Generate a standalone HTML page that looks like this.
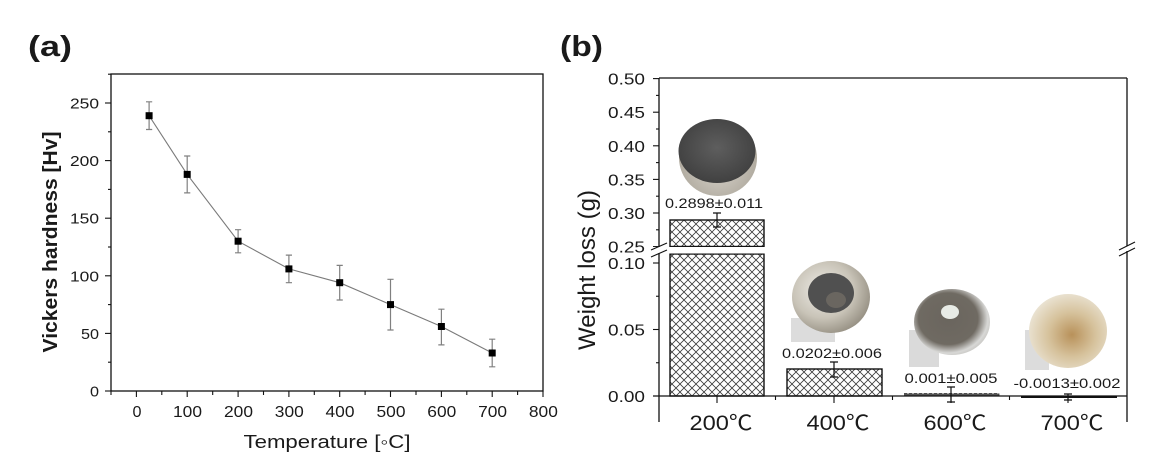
<!DOCTYPE html>
<html><head><meta charset="utf-8"><style>
html,body{margin:0;padding:0;background:#fff;}
svg{display:block;}
text{font-family:"Liberation Sans","Noto Sans CJK KR",sans-serif;fill:#1a1a1a;}
</style></head><body>
<svg width="1167" height="475" viewBox="0 0 1167 475" xmlns="http://www.w3.org/2000/svg">
<defs>
<pattern id="hatch" patternUnits="userSpaceOnUse" width="8" height="8">
<path d="M0,0 L8,8 M8,0 L0,8 M-1,7 L1,9 M7,-1 L9,1 M-1,1 L1,-1 M7,9 L9,7" stroke="#3a3a3a" stroke-width="0.8" fill="none"/>
</pattern>
<radialGradient id="b1" cx="0.5" cy="0.6" r="0.6"><stop offset="0" stop-color="#d8d4cc"/><stop offset="1" stop-color="#a8a296"/></radialGradient>
<radialGradient id="f1" cx="0.5" cy="0.45" r="0.6"><stop offset="0" stop-color="#5e5e5e"/><stop offset="1" stop-color="#3e3e3e"/></radialGradient>
<radialGradient id="b2" cx="0.4" cy="0.4" r="0.65"><stop offset="0" stop-color="#efede8"/><stop offset="0.6" stop-color="#c9c4b8"/><stop offset="1" stop-color="#958f82"/></radialGradient>
<radialGradient id="b3" cx="0.45" cy="0.45" r="0.65"><stop offset="0" stop-color="#6a655e"/><stop offset="0.6" stop-color="#6f6a62"/><stop offset="0.8" stop-color="#d8d8d6"/><stop offset="1" stop-color="#b8b6b0"/></radialGradient>
<radialGradient id="b4" cx="0.55" cy="0.55" r="0.6"><stop offset="0" stop-color="#b8915a"/><stop offset="0.5" stop-color="#d6c29c"/><stop offset="1" stop-color="#ece6d8"/></radialGradient>
</defs>

<!-- ===== Panel (a) ===== -->
<text x="28" y="56" font-size="29" font-weight="bold" textLength="44" lengthAdjust="spacingAndGlyphs">(a)</text>

<rect x="111" y="74" width="432" height="317" fill="none" stroke="#111" stroke-width="1.3"/>

<!-- y ticks -->
<g stroke="#111" stroke-width="1.1">
<line x1="105" y1="391" x2="111" y2="391"/>
<line x1="105" y1="333.4" x2="111" y2="333.4"/>
<line x1="105" y1="275.8" x2="111" y2="275.8"/>
<line x1="105" y1="218.2" x2="111" y2="218.2"/>
<line x1="105" y1="160.6" x2="111" y2="160.6"/>
<line x1="105" y1="103" x2="111" y2="103"/>
<line x1="108" y1="362.2" x2="111" y2="362.2"/>
<line x1="108" y1="304.6" x2="111" y2="304.6"/>
<line x1="108" y1="247" x2="111" y2="247"/>
<line x1="108" y1="189.4" x2="111" y2="189.4"/>
<line x1="108" y1="131.8" x2="111" y2="131.8"/>
<line x1="108" y1="74.2" x2="111" y2="74.2"/>
<!-- x ticks -->
<line x1="136.4" y1="391" x2="136.4" y2="397"/>
<line x1="187.2" y1="391" x2="187.2" y2="397"/>
<line x1="238.1" y1="391" x2="238.1" y2="397"/>
<line x1="288.9" y1="391" x2="288.9" y2="397"/>
<line x1="339.7" y1="391" x2="339.7" y2="397"/>
<line x1="390.5" y1="391" x2="390.5" y2="397"/>
<line x1="441.4" y1="391" x2="441.4" y2="397"/>
<line x1="492.2" y1="391" x2="492.2" y2="397"/>
<line x1="543" y1="391" x2="543" y2="397"/>
<line x1="111" y1="391" x2="111" y2="395"/>
<line x1="161.8" y1="391" x2="161.8" y2="395"/>
<line x1="212.7" y1="391" x2="212.7" y2="395"/>
<line x1="263.5" y1="391" x2="263.5" y2="395"/>
<line x1="314.3" y1="391" x2="314.3" y2="395"/>
<line x1="365.1" y1="391" x2="365.1" y2="395"/>
<line x1="416" y1="391" x2="416" y2="395"/>
<line x1="466.8" y1="391" x2="466.8" y2="395"/>
<line x1="517.6" y1="391" x2="517.6" y2="395"/>
</g>

<g font-size="15" text-anchor="end">
<text x="99" y="396.5" textLength="9" lengthAdjust="spacingAndGlyphs">0</text>
<text x="99" y="338.9" textLength="18" lengthAdjust="spacingAndGlyphs">50</text>
<text x="99" y="281.3" textLength="29" lengthAdjust="spacingAndGlyphs">100</text>
<text x="99" y="223.7" textLength="29" lengthAdjust="spacingAndGlyphs">150</text>
<text x="99" y="166.1" textLength="29" lengthAdjust="spacingAndGlyphs">200</text>
<text x="99" y="108.5" textLength="29" lengthAdjust="spacingAndGlyphs">250</text>
</g>
<g font-size="16" text-anchor="middle">
<text x="137" y="417" textLength="9" lengthAdjust="spacingAndGlyphs">0</text>
<text x="187.5" y="417" textLength="29" lengthAdjust="spacingAndGlyphs">100</text>
<text x="238.5" y="417" textLength="29" lengthAdjust="spacingAndGlyphs">200</text>
<text x="289.3" y="417" textLength="29" lengthAdjust="spacingAndGlyphs">300</text>
<text x="340" y="417" textLength="29" lengthAdjust="spacingAndGlyphs">400</text>
<text x="391" y="417" textLength="29" lengthAdjust="spacingAndGlyphs">500</text>
<text x="441.8" y="417" textLength="29" lengthAdjust="spacingAndGlyphs">600</text>
<text x="492.6" y="417" textLength="29" lengthAdjust="spacingAndGlyphs">700</text>
<text x="543.4" y="417" textLength="29" lengthAdjust="spacingAndGlyphs">800</text>
</g>

<text x="327" y="448" font-size="18" text-anchor="middle" textLength="167" lengthAdjust="spacingAndGlyphs">Temperature [◦C]</text>
<text transform="translate(57,242) rotate(-90)" x="0" y="0" font-size="20" font-weight="bold" text-anchor="middle" textLength="221" lengthAdjust="spacingAndGlyphs">Vickers hardness [Hv]</text>

<!-- line -->
<polyline points="149.1,115.7 187.2,174.4 238.1,241.2 288.9,268.9 339.7,282.7 390.5,304.6 441.4,326.5 492.2,353" fill="none" stroke="#7a7a7a" stroke-width="1.1"/>
<!-- error bars -->
<g stroke="#808080" stroke-width="1.2">
<path d="M149.1,101.8V129.5M146,101.8H152.2M146,129.5H152.2"/>
<path d="M187.2,156V192.9M184.1,156H190.3M184.1,192.9H190.3"/>
<path d="M238.1,229.7V252.8M235,229.7H241.2M235,252.8H241.2"/>
<path d="M288.9,255.1V282.7M285.8,255.1H292M285.8,282.7H292"/>
<path d="M339.7,265.4V300M336.6,265.4H342.8M336.6,300H342.8"/>
<path d="M390.5,279.3V330M387.4,279.3H393.6M387.4,330H393.6"/>
<path d="M441.4,309.2V344.9M438.3,309.2H444.5M438.3,344.9H444.5"/>
<path d="M492.2,339.2V366.8M489.1,339.2H495.3M489.1,366.8H495.3"/>
</g>
<g fill="#000">
<rect x="145.6" y="112.2" width="7" height="7"/>
<rect x="183.7" y="170.9" width="7" height="7"/>
<rect x="234.6" y="237.7" width="7" height="7"/>
<rect x="285.4" y="265.4" width="7" height="7"/>
<rect x="336.2" y="279.2" width="7" height="7"/>
<rect x="387" y="301.1" width="7" height="7"/>
<rect x="437.9" y="323" width="7" height="7"/>
<rect x="488.7" y="349.5" width="7" height="7"/>
</g>

<!-- ===== Panel (b) ===== -->
<text x="560" y="56" font-size="29" font-weight="bold" textLength="43" lengthAdjust="spacingAndGlyphs">(b)</text>

<!-- photos -->
<!-- photo 1 -->
<ellipse cx="718" cy="158" rx="39" ry="38" fill="url(#b1)"/>
<ellipse cx="717" cy="151" rx="38.5" ry="32" fill="url(#f1)"/>
<!-- photo 2 -->
<rect x="791" y="318" width="44" height="24" fill="#dcdcdc"/>
<ellipse cx="831" cy="297" rx="39" ry="36" fill="url(#b2)"/>
<ellipse cx="831" cy="293" rx="23" ry="20" fill="#505050"/>
<ellipse cx="836" cy="300" rx="10" ry="8" fill="#6a6660"/>
<!-- photo 3 -->
<rect x="909" y="330" width="30" height="37" fill="#dadada"/>
<ellipse cx="952" cy="322" rx="38" ry="33" fill="url(#b3)"/>
<ellipse cx="950" cy="312" rx="9" ry="7" fill="#e8ebe6"/>
<!-- photo 4 -->
<rect x="1025" y="330" width="24" height="40" fill="#dcdcdc"/>
<ellipse cx="1068" cy="331" rx="39" ry="37" fill="url(#b4)"/>

<!-- bars -->
<rect x="670" y="220" width="94" height="26.5" fill="url(#hatch)" stroke="#111" stroke-width="1.4"/>
<rect x="670" y="254" width="94" height="142" fill="url(#hatch)" stroke="#111" stroke-width="1.4"/>
<rect x="667" y="247" width="100" height="6.5" fill="#fff"/>
<rect x="787" y="369" width="95" height="27" fill="url(#hatch)" stroke="#111" stroke-width="1.4"/>
<rect x="904" y="393.5" width="95" height="2.5" fill="#555" stroke="#333" stroke-width="0.8" stroke-dasharray="3,2"/>
<rect x="1021" y="395.5" width="96" height="2.5" fill="#111"/>

<!-- axes -->
<g stroke="#111" stroke-width="1.3" fill="none">
<line x1="659" y1="78" x2="1127" y2="78"/>
<line x1="659" y1="78" x2="659" y2="422"/>
<line x1="1127" y1="78" x2="1127" y2="422"/>
<line x1="653" y1="396" x2="1127" y2="396"/>
</g>
<!-- y ticks b -->
<g stroke="#111" stroke-width="1.1">
<line x1="653" y1="78.6" x2="659" y2="78.6"/>
<line x1="653" y1="112.2" x2="659" y2="112.2"/>
<line x1="653" y1="145.8" x2="659" y2="145.8"/>
<line x1="653" y1="179.4" x2="659" y2="179.4"/>
<line x1="653" y1="213" x2="659" y2="213"/>
<line x1="653" y1="246.6" x2="659" y2="246.6"/>
<line x1="656" y1="95.4" x2="659" y2="95.4"/>
<line x1="656" y1="129" x2="659" y2="129"/>
<line x1="656" y1="162.6" x2="659" y2="162.6"/>
<line x1="656" y1="196.2" x2="659" y2="196.2"/>
<line x1="656" y1="229.8" x2="659" y2="229.8"/>
<line x1="653" y1="263" x2="659" y2="263"/>
<line x1="653" y1="329.5" x2="659" y2="329.5"/>
<line x1="656" y1="296.25" x2="659" y2="296.25"/>
<line x1="656" y1="362.75" x2="659" y2="362.75"/>
<!-- x ticks b -->
<line x1="717" y1="396" x2="717" y2="403"/>
<line x1="834" y1="396" x2="834" y2="403"/>
<line x1="951" y1="396" x2="951" y2="403"/>
<line x1="1068" y1="396" x2="1068" y2="403"/>
<line x1="775.5" y1="396" x2="775.5" y2="400"/>
<line x1="892.5" y1="396" x2="892.5" y2="400"/>
<line x1="1009.5" y1="396" x2="1009.5" y2="400"/>
</g>
<!-- break marks -->
<g stroke="#111" stroke-width="1.1">
<rect x="650" y="247" width="18" height="6" fill="#fff" stroke="none"/>
<line x1="651" y1="250" x2="667" y2="243"/>
<line x1="651" y1="257" x2="667" y2="250"/>
<rect x="1118" y="246" width="18" height="5" fill="#fff" stroke="none"/>
<line x1="1119" y1="250" x2="1135" y2="242"/>
<line x1="1119" y1="256" x2="1135" y2="248"/>
</g>

<g font-size="16" text-anchor="end">
<text x="645" y="84.6" textLength="37" lengthAdjust="spacingAndGlyphs">0.50</text>
<text x="645" y="118.2" textLength="37" lengthAdjust="spacingAndGlyphs">0.45</text>
<text x="645" y="151.8" textLength="37" lengthAdjust="spacingAndGlyphs">0.40</text>
<text x="645" y="185.4" textLength="37" lengthAdjust="spacingAndGlyphs">0.35</text>
<text x="645" y="219" textLength="37" lengthAdjust="spacingAndGlyphs">0.30</text>
<text x="645" y="252.6" textLength="37" lengthAdjust="spacingAndGlyphs">0.25</text>
<text x="645" y="269" textLength="37" lengthAdjust="spacingAndGlyphs">0.10</text>
<text x="645" y="335.5" textLength="37" lengthAdjust="spacingAndGlyphs">0.05</text>
<text x="645" y="402" textLength="37" lengthAdjust="spacingAndGlyphs">0.00</text>
</g>

<text transform="translate(595,270) rotate(-90)" x="0" y="0" font-size="24" text-anchor="middle" textLength="160" lengthAdjust="spacingAndGlyphs">Weight loss (g)</text>

<!-- error bars b -->
<g stroke="#111" stroke-width="1.2">
<path d="M717,213V227M713,213H721M713,227H721"/>
<path d="M834,362V377M830,362H838M830,377H838"/>
<path d="M951,387V402M947,387H955M947,402H955"/>
<path d="M1068,394V400M1064,394H1072M1064,400H1072"/>
</g>

<!-- value labels -->
<g font-size="14" text-anchor="middle">
<text x="714" y="208" textLength="98" lengthAdjust="spacingAndGlyphs">0.2898±0.011</text>
<text x="832" y="358" textLength="100" lengthAdjust="spacingAndGlyphs">0.0202±0.006</text>
<text x="951" y="383" textLength="93" lengthAdjust="spacingAndGlyphs">0.001±0.005</text>
<text x="1067" y="388" textLength="107" lengthAdjust="spacingAndGlyphs">-0.0013±0.002</text>
</g>

<!-- category labels -->
<g font-size="21" text-anchor="middle">
<text x="721" y="430" textLength="63" lengthAdjust="spacingAndGlyphs">200℃</text>
<text x="838" y="430" textLength="63" lengthAdjust="spacingAndGlyphs">400℃</text>
<text x="955" y="430" textLength="63" lengthAdjust="spacingAndGlyphs">600℃</text>
<text x="1072" y="430" textLength="63" lengthAdjust="spacingAndGlyphs">700℃</text>
</g>
</svg>
</body></html>
